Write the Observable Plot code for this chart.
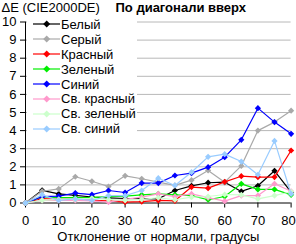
<!DOCTYPE html>
<html>
<head>
<meta charset="utf-8">
<script src="https://cdn.jsdelivr.net/npm/d3@7"></script>
<script src="https://cdn.jsdelivr.net/npm/@observablehq/plot@0.6"></script>
<style>
  html, body { margin: 0; padding: 0; background: #fff; }
  #chart { position: relative; width: 296px; height: 244px; font-family: "Liberation Sans", Arial, sans-serif; }
  #legend { position: absolute; left: 27px; top: 16px; width: 110px; height: 121px; background: #fff; padding-top: 1px; box-sizing: border-box; }
  .row { display: flex; align-items: center; height: 14.9px; font-size: 13px; color: #000; white-space: nowrap; }
  .row svg { margin-left: 6px; margin-right: 1px; flex: none; }
</style>
</head>
<body>
<div id="chart"><div id="legend"></div></div>
<script>
// Viewing angle, degrees
const angles = [0, 5, 10, 15, 20, 25, 30, 35, 40, 45, 50, 55, 60, 65, 70, 75, 80];

// ΔE (CIE2000) per colour patch
const white  = [0, 0.70, 0.50, 0.42, 0.33, 0.28, 0.25, 0.24, 0.23, 0.69, 0.95, 1.12, 1.15, 0.64, 0.95, 1.78, 0.60];
const grey   = [0, 0.65, 0.78, 1.45, 1.20, 0.91, 1.50, 1.34, 1.15, 0.97, 1.26, 1.80, 1.15, 2.05, 4.00, 4.47, 5.10];
const red    = [0, 0.25, 0.20, 0.20, 0.15, 0.12, 0.05, 0.08, 0.14, 0.12, 0.88, 0.82, 1.17, 1.48, 1.43, 1.43, 2.90];
const green  = [0, 0.35, 0.30, 0.30, 0.30, 0.35, 0.38, 0.45, 0.50, 0.45, 0.41, 0.18, 0.36, 1.06, 0.75, 0.75, 0.45];
const blue   = [0, 0.35, 0.38, 0.55, 0.46, 0.69, 0.58, 1.10, 1.10, 1.52, 1.65, 1.98, 2.53, 3.49, 5.24, 4.47, 3.82];
const pink   = [0, 0.15, 0.15, 0.15, 0.12, 0.05, 0.20, 0.32, 0.50, 0.35, 0.50, 0.30, 0.10, 0.41, 0.41, 1.06, 0.65];
const lgreen = [0, 0.15, 0.20, 0.20, 0.25, 0.20, 0.15, 0.20, 0.29, 0.18, 0.32, 0.36, 0.47, 0.45, 0.23, 0.41, 0.62];
const lblue  = [0, 0.45, 0.14, 0.23, 0.14, 0.41, 0.41, 0.69, 1.37, 0.97, 1.70, 2.55, 2.70, 2.29, 1.56, 3.43, 0.50];

const seriesNames  = ["Белый", "Серый", "Красный", "Зеленый", "Синий", "Св. красный", "Св. зеленый", "Св. синий"];
const seriesValues = [white, grey, red, green, blue, pink, lgreen, lblue];
const seriesColors = ["#000000", "#a9a9a9", "#ff0000", "#00ee00", "#0000ff", "#ff99cc", "#ccffcc", "#99ccff"];

const xTicks = [0, 10, 20, 30, 40, 50, 60, 70, 80];
const yTicks = [0, 1, 2, 3, 4, 5, 6, 7, 8, 9, 10];
const gridLevels = [1, 2, 3, 4, 5, 6, 7, 8, 9, 10];

const chartTitle = "По диагонали вверх";
const yTitle = "ΔE (CIE2000DE)";
const xTitle = "Отклонение от нормали, градусы";

const rows = seriesNames.map((name, i) => angles.map((a, j) => ({series: name, angle: a, de: seriesValues[i][j]})));

const seriesMarks = rows.flatMap((data, i) => [
  Plot.line(data, {x: "angle", y: "de", stroke: seriesColors[i], strokeWidth: 1.2}),
  Plot.dot(data, {x: "angle", y: "de", symbol: "diamond2", r: 2.8, fill: seriesColors[i], stroke: "none"})
]);

const lastTick = xTicks[xTicks.length - 1];

const plot = Plot.plot({
  width: 296,
  height: 244,
  marginLeft: 25,
  marginRight: 5.4,
  marginTop: 21.5,
  marginBottom: 41.5,
  style: {fontFamily: "Liberation Sans, Arial, sans-serif", fontSize: "13px", background: "#fff", color: "#000"},
  x: {domain: [0, 80]},
  y: {domain: [0, 10]},
  marks: [
    Plot.ruleY(gridLevels, {stroke: "#b8b8b8", strokeWidth: 1}),
    Plot.axisY({ticks: yTicks, tickSize: 5, tickPadding: 4, label: null, fontSize: 13}),
    // x tick marks everywhere; the last label is nudged inward so it stays on the canvas
    Plot.axisX({ticks: xTicks, tickSize: 5, tickPadding: 8, label: null, fontSize: 13,
                tickFormat: (d) => (d === lastTick ? "" : String(d))}),
    Plot.text([lastTick], {x: (d) => d, text: (d) => String(d), frameAnchor: "bottom", lineAnchor: "top",
                           dy: 13, dx: -2.5, fontSize: 13}),
    Plot.ruleX([0], {stroke: "#000"}),
    Plot.ruleY([0], {stroke: "#000"}),
    ...seriesMarks,
    Plot.text([yTitle], {frameAnchor: "top-left", lineAnchor: "top", dx: -24, dy: -19.3, textAnchor: "start", fontSize: 13}),
    Plot.text([chartTitle], {frameAnchor: "top-left", lineAnchor: "top", dx: 90, dy: -19, textAnchor: "start", fontSize: 13, fontWeight: "bold"}),
    Plot.text([xTitle], {frameAnchor: "bottom", lineAnchor: "top", dy: 28.5, fontSize: 13})
  ]
});

const chart = document.getElementById("chart");
chart.insertBefore(plot, chart.firstChild);
plot.style.display = "block";

// Legend overlaid on the plot area
const legend = document.getElementById("legend");
seriesNames.forEach((name, i) => {
  const row = document.createElement("div");
  row.className = "row";
  const c = seriesColors[i];
  row.innerHTML = `<svg width="27" height="10" viewBox="0 0 27 10"><line x1="0" y1="5" x2="27" y2="5" stroke="${c}" stroke-width="1.2"/><path d="M13.7 1.5 L17.2 5 L13.7 8.5 L10.2 5 Z" fill="${c}"/></svg><span>${name}</span>`;
  legend.appendChild(row);
});
</script>
</body>
</html>
